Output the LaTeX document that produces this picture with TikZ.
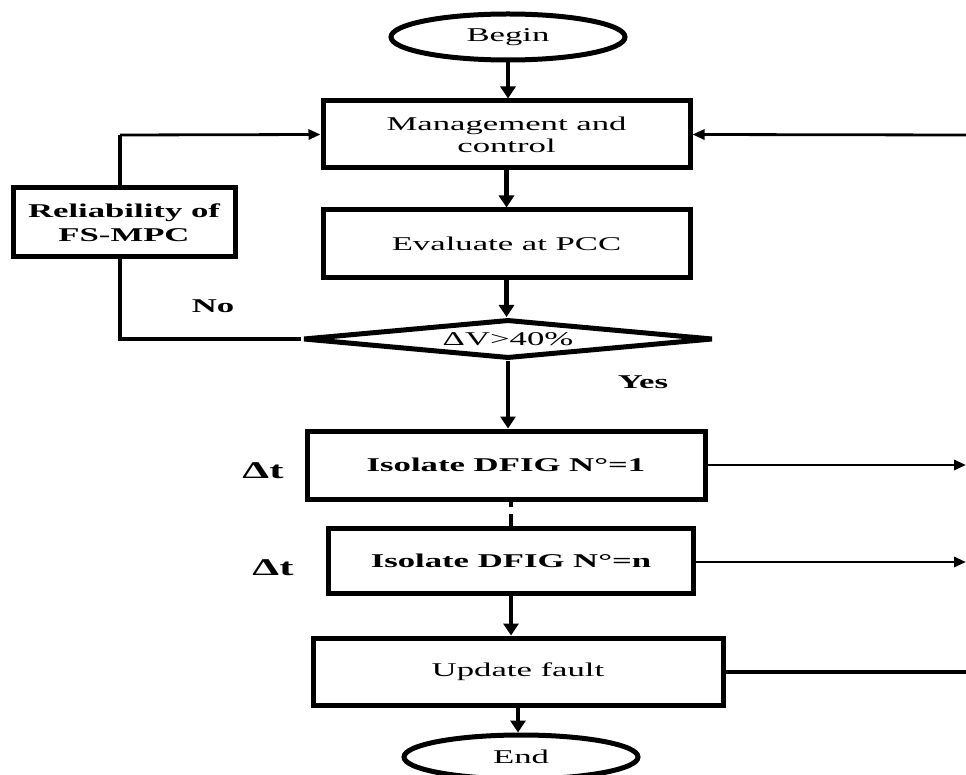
\documentclass[tikz,border=0pt]{standalone}
\usepackage{fontspec}
\setmainfont{Liberation Serif}[FakeStretch=1.78]
\usetikzlibrary{shapes.geometric,arrows.meta}
\begin{document}
\begin{tikzpicture}[x=1pt,y=-1pt,
  box/.style={draw,line width=5pt,rectangle,inner sep=0pt,align=center,font=\fontsize{19.5}{22}\selectfont},
  bbox/.style={box,font=\fontsize{19.5}{24}\selectfont\bfseries},
  term/.style={draw,line width=5pt,ellipse,inner sep=0pt,font=\fontsize{19.5}{22}\selectfont},
  decide/.style={draw,line width=5pt,diamond,aspect=10.5,inner sep=0pt,font=\fontsize{19.5}{22}\selectfont},
  flow/.style={line width=4.8pt,-{Triangle[length=12pt,width=15pt]}},
  thinflow/.style={line width=2.8pt,-{Triangle[length=12pt,width=10pt]}},
  thickline/.style={line width=4.8pt},
  lbl/.style={font=\fontsize{19.5}{22}\selectfont\bfseries},
  dtl/.style={font=\fontsize{24}{26}\selectfont\bfseries}
]
\useasboundingbox (0,0) rectangle (966,775);
\fill[white] (0,0) rectangle (966,775);

\node[term,minimum width=234pt,minimum height=46pt] (begin) at (508,37) {Begin};
\node[box,minimum width=367pt,minimum height=67pt] (mgmt) at (506.5,134.5) {Management and\\control};
\node[box,minimum width=367pt,minimum height=68pt] (eval) at (506.5,244) {Evaluate at PCC};
\node[bbox,minimum width=222pt,minimum height=69pt] (relia) at (124,222.5) {Reliability of\\FS-MPC};
\node[decide,minimum width=410pt,minimum height=39pt] (dia) at (508,339) {ΔV>40\%};
\node[bbox,minimum width=398pt,minimum height=68pt] (iso1) at (506,465) {Isolate DFIG N°=1};
\node[bbox,minimum width=365pt,minimum height=65pt] (ison) at (511,560.5) {Isolate DFIG N°=n};
\node[box,minimum width=410pt,minimum height=67pt] (upd) at (518,671.5) {Update fault};
\node[term,minimum width=234pt,minimum height=44pt] (end) at (521,757) {End};

\node[lbl] (no) at (213,306) {No};
\node[lbl] (yes) at (643,382) {Yes};
\node[dtl] (dt1) at (263,471) {Δt};
\node[dtl] (dt2) at (273,568) {Δt};

\coordinate (nl) at (120,339);
\coordinate (nt) at (120,135);
\coordinate (r0) at (966,135);
\coordinate (r1) at (966,465);
\coordinate (r2) at (966,562);
\coordinate (r3) at (966,672);

% main spine
\draw[flow] (begin.south) -- (begin.south |- mgmt.north);
\draw[flow] (mgmt.south) -- (mgmt.south |- eval.north);
\draw[flow] (eval.south) -- (eval.south |- dia.north);
\draw[flow] (dia.south) -- (dia.south |- iso1.north);
\draw[thickline,dash pattern=on 5pt off 7pt on 20pt off 0pt] (ison.north |- iso1.south) -- (ison.north);
\draw[flow] (ison.south) -- (ison.south |- upd.north);
\draw[flow] (upd.south) -- (upd.south |- end.north);

% No loop
\draw[thickline] (dia.west) -- (nl) -- (nl |- relia.south);
\draw[thickline] (nt |- relia.north) -- (nt);
\draw[thinflow] (nt) -- (mgmt.west);

% right side
\draw[thinflow] (r0) -- (mgmt.east);
\draw[thinflow] (iso1.east |- r1) -- (r1);
\draw[thinflow] (ison.east |- r2) -- (r2);
\draw[thickline] (upd.east |- r3) -- (r3);
\end{tikzpicture}
\end{document}
